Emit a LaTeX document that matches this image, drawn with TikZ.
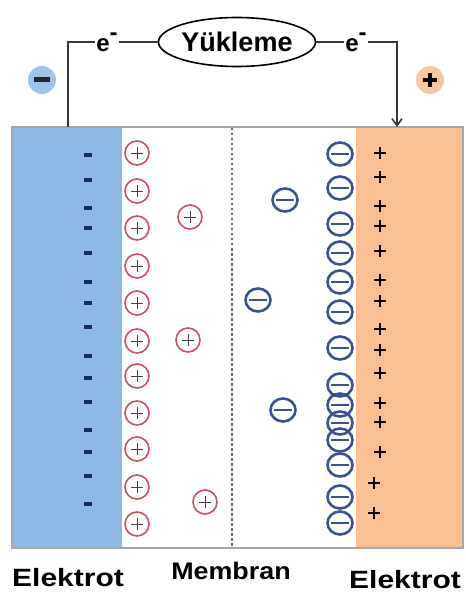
\documentclass[tikz,border=0pt]{standalone}
\usepackage{fontspec}
\setmainfont{Liberation Sans}
\newfontfamily\widefont[FakeStretch=1.2]{Liberation Sans}
\newfontfamily\memfont[FakeStretch=1.12]{Liberation Sans}
\usetikzlibrary{shapes.geometric,arrows.meta}
\definecolor{eblue}{RGB}{141,185,228}
\definecolor{eorange}{RGB}{249,193,145}
\definecolor{ionred}{RGB}{200,80,100}
\definecolor{ionblue}{RGB}{58,82,145}
\definecolor{navy}{RGB}{25,45,85}
\definecolor{wire}{RGB}{55,55,55}
\tikzset{
  cation/.style={circle, draw=ionred, line width=1.6pt, minimum size=24pt, inner sep=0pt,
    path picture={\draw[line width=0.9pt, black!75] ([xshift=-6pt]path picture bounding box.center) -- ([xshift=6pt]path picture bounding box.center);
                  \draw[line width=0.9pt, black!75] ([yshift=-6pt]path picture bounding box.center) -- ([yshift=6pt]path picture bounding box.center);}},
  anion/.style={ellipse, draw=ionblue, line width=2.6pt, minimum width=25pt, minimum height=23pt, inner sep=0pt,
    path picture={\draw[line width=2.6pt, ionblue] ([xshift=-9pt]path picture bounding box.center) -- ([xshift=9pt]path picture bounding box.center);}},
  lminus/.style={rectangle, fill=navy, minimum width=8.5pt, minimum height=3.6pt, inner sep=0pt},
  rplus/.style={rectangle, minimum size=14pt, inner sep=0pt,
    path picture={\draw[line width=2.8pt, black] ([xshift=-6pt]path picture bounding box.center) -- ([xshift=6pt]path picture bounding box.center);
                  \draw[line width=2.8pt, black] ([yshift=-6pt]path picture bounding box.center) -- ([yshift=6pt]path picture bounding box.center);}},
  wireline/.style={draw=wire, line width=1.6pt},
  elab/.style={font=\bfseries\fontsize{24}{24}\selectfont, inner sep=1.5pt},
  biglab/.style={font=\widefont\bfseries\fontsize{25}{25}\selectfont, inner sep=0pt},
}
\begin{document}
\begin{tikzpicture}[x=1pt,y=-1pt]
\useasboundingbox (0,0) rectangle (465,593);
% electrodes and cell
\fill[eblue] (12,127) rectangle (122,548);
\fill[eorange] (356,127) rectangle (463,548);
\draw[gray!70, line width=1.2pt] (12,127) rectangle (463,548);
% membrane
\draw[gray!85!black, line width=2.4pt, dash pattern=on 2.5pt off 2.5pt] (232,128) -- (232,547);
% circuit
\node[ellipse, draw, line width=1.6pt, minimum width=150pt, minimum height=49pt, inner sep=0pt,
      font=\bfseries\fontsize{27}{27}\selectfont] (load) at (237,42) {Yükleme};
\node[elab] (eL) at (107,42) {e\raisebox{0.45em}{-}};
\node[elab] (eR) at (356,42) {e\raisebox{0.45em}{-}};
\coordinate (wl) at (68,127);
\coordinate (wr) at (397,127);
\draw[wireline] (wl) |- (eL.west);
\draw[wireline] (eL.east) -- (load.west);
\draw[wireline] (load.east) -- (eR.west);
\draw[wireline, -{Straight Barb[length=7pt,width=10pt]}] (eR.east) -| (wr);
% terminal symbols
\node[circle, fill=eblue!85, minimum size=28pt, inner sep=0pt] (tneg) at (42,80) {};
\node[rectangle, fill=black!85, minimum width=16pt, minimum height=5pt, inner sep=0pt] (tnegbar) at (tneg.center) {};
\node[circle, fill=eorange!90, minimum size=28pt, inner sep=0pt] (tpos) at (430,80) {};
\node[rectangle, minimum size=15pt, inner sep=0pt,
    path picture={\draw[line width=4pt, black] ([xshift=-7pt]path picture bounding box.center) -- ([xshift=7pt]path picture bounding box.center);
                  \draw[line width=4pt, black] ([yshift=-7pt]path picture bounding box.center) -- ([yshift=7pt]path picture bounding box.center);}] (tposplus) at (tpos.center) {};
% left electrode charges
\foreach \y [count=\i] in {155,180,208,228,253,282,303,327,356,378,402,430,452,476,504}
  \node[lminus] (lm\i) at (88,\y) {};
% right electrode charges
\foreach \y [count=\i] in {153,177,206,226,251,280,301,329,350,373,403,422,452}
  \node[rplus] (rp\i) at (380,\y) {};
\node[rplus] (rp14) at (374,483) {};
\node[rplus] (rp15) at (374,513) {};
% cations
\foreach \y [count=\i] in {153,191,228,266,303,341,376,413,449,487,524}
  \node[cation] (c\i) at (137,\y) {};
\node[cation] (c12) at (190,217) {};
\node[cation] (c13) at (188,340) {};
\node[cation] (c14) at (205,502) {};
% anions
\foreach \y [count=\i] in {154,188,224,253,282,312,348,385,405,423,440,465,497,523}
  \node[anion] (a\i) at (340,\y) {};
\node[anion] (a15) at (285,200) {};
\node[anion] (a16) at (258,300) {};
\node[anion] (a17) at (283,410) {};
% labels
\node[biglab] (l1) at (68,578) {Elektrot};
\node[font=\memfont\bfseries\fontsize{24}{24}\selectfont, inner sep=0pt] (l2) at (231,571) {Membran};
\node[biglab] (l3) at (405,580) {Elektrot};
\end{tikzpicture}
\end{document}
